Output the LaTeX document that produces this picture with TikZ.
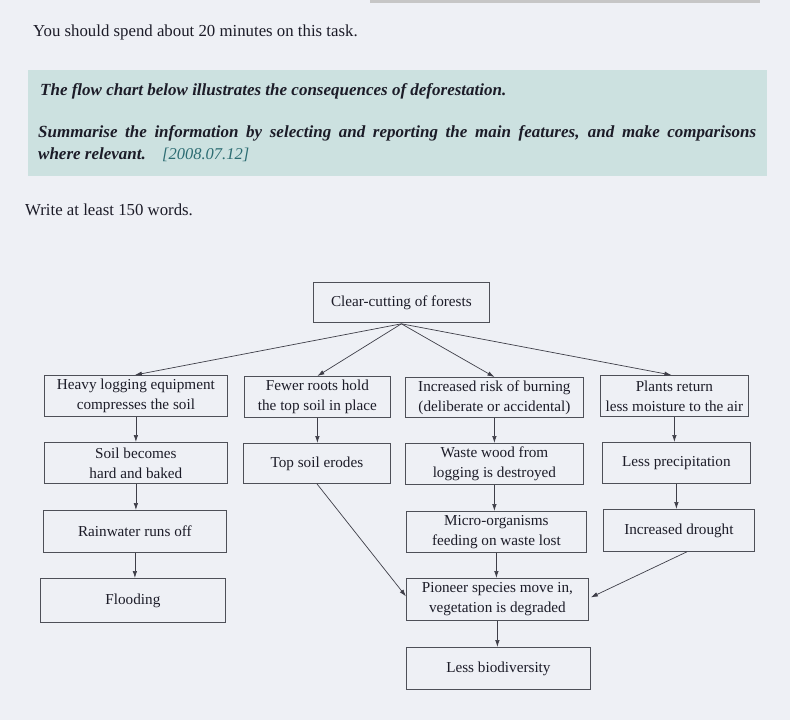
\documentclass[tikz,border=0pt]{standalone}
\usepackage{fontspec}
\setmainfont{Liberation Serif}
\usetikzlibrary{arrows.meta}
\definecolor{paper}{HTML}{EEF0F5}
\definecolor{band}{HTML}{CCE1E0}
\definecolor{ink}{HTML}{1C1C28}
\definecolor{boxline}{HTML}{4E5058}
\definecolor{teal}{HTML}{2C6C72}
\tikzset{
  flowbox/.style={draw=boxline, line width=0.8pt, anchor=north west, align=center,
    text=ink, inner sep=0pt, font=\fontsize{15.2}{20}\selectfont},
  flowarrow/.style={draw=ink!85, line width=0.7pt, -{Latex[length=7pt,width=4.5pt]}},
  plain/.style={anchor=base west, inner sep=0pt, text=ink},
  taskfont/.style={font=\fontsize{17}{20}\selectfont\bfseries\itshape}
}
\begin{document}
\begin{tikzpicture}[x=1pt,y=-1pt]
  % page
  \fill[paper] (0,0) rectangle (790,720);
  \useasboundingbox (0,0) rectangle (790,720);
  \fill[gray!45] (370,0) rectangle (760,3);

  % task instructions
  \node[plain, font=\fontsize{16.8}{20}\selectfont] (spend) at (33,36)
    {You should spend about 20 minutes on this task.};
  \fill[band] (28,70) rectangle (767,176);
  \node[plain, taskfont] (task1) at (40,95)
    {The flow chart below illustrates the consequences of deforestation.};
  \node[plain, taskfont] (task2) at (38,137)
    {\makebox[718pt][s]{Summarise the information by selecting and reporting the main features, and make comparisons}};
  \node[plain, taskfont] (task3) at (38,159)
    {where relevant.};
  \node[plain, font=\fontsize{16.5}{20}\selectfont\itshape, text=teal] (date) at (162,159)
    {[2008.07.12]};
  \node[plain, font=\fontsize{16.8}{20}\selectfont] (words) at (25,215)
    {Write at least 150 words.};

  % flow chart boxes
  \node[flowbox, minimum width=176pt, minimum height=40pt] (clear)   at (313,282) {Clear-cutting of forests};

  \node[flowbox, minimum width=183pt, minimum height=41pt] (heavy)   at (44,375)  {Heavy logging equipment\\compresses the soil};
  \node[flowbox, minimum width=146pt, minimum height=41pt] (roots)   at (244,376) {Fewer roots hold\\the top soil in place};
  \node[flowbox, minimum width=178pt, minimum height=40pt] (burn)    at (405,377) {Increased risk of burning\\(deliberate or accidental)};
  \node[flowbox, minimum width=148pt, minimum height=41pt] (plants)  at (600,375) {Plants return\\less moisture to the air};

  \node[flowbox, minimum width=183pt, minimum height=41pt] (soil)    at (44,442)  {Soil becomes\\hard and baked};
  \node[flowbox, minimum width=147pt, minimum height=40pt] (erode)   at (243,443) {Top soil erodes};
  \node[flowbox, minimum width=178pt, minimum height=41pt] (waste)   at (405,443) {Waste wood from\\logging is destroyed};
  \node[flowbox, minimum width=148pt, minimum height=41pt] (precip)  at (602,442) {Less precipitation};

  \node[flowbox, minimum width=183pt, minimum height=42pt] (rain)    at (43,510)  {Rainwater runs off};
  \node[flowbox, minimum width=180pt, minimum height=41pt] (micro)   at (406,511) {Micro-organisms\\feeding on waste lost};
  \node[flowbox, minimum width=151pt, minimum height=42pt] (drought) at (603,509) {Increased drought};

  \node[flowbox, minimum width=185pt, minimum height=44pt] (flood)   at (40,578)  {Flooding};
  \node[flowbox, minimum width=182pt, minimum height=42pt] (pioneer) at (406,578) {Pioneer species move in,\\vegetation is degraded};

  \node[flowbox, minimum width=184pt, minimum height=42pt] (biodiv)  at (406,647) {Less biodiversity};

  % connectors fanning out from the top box
  \coordinate (fork) at ([yshift=-1pt]clear.south);
  \draw[flowarrow] (fork) -- ([xshift=-1pt]heavy.north);
  \draw[flowarrow] (fork) -- (roots.north);
  \draw[flowarrow] (fork) -- (burn.north);
  \draw[flowarrow] (fork) -- ([xshift=-3pt]plants.north);

  % straight-down steps within each column
  \draw[flowarrow] (heavy.south) -- (heavy.south |- soil.north);
  \draw[flowarrow] (soil.south) -- (soil.south |- rain.north);
  \draw[flowarrow] (rain.south) -- (rain.south |- flood.north);

  \draw[flowarrow] (roots.south) -- (roots.south |- erode.north);
  \draw[flowarrow] (erode.south) -- ([yshift=3pt]pioneer.west);

  \draw[flowarrow] (burn.south) -- (burn.south |- waste.north);
  \draw[flowarrow] (waste.south) -- (waste.south |- micro.north);
  \draw[flowarrow] (micro.south) -- (micro.south |- pioneer.north);
  \draw[flowarrow] (pioneer.south) -- (pioneer.south |- biodiv.north);

  \draw[flowarrow] (plants.south) -- (plants.south |- precip.north);
  \draw[flowarrow] (precip.south) -- (precip.south |- drought.north);
  \draw[flowarrow] ([xshift=8pt]drought.south) -- ([xshift=2pt,yshift=2pt]pioneer.east);
\end{tikzpicture}
\end{document}
